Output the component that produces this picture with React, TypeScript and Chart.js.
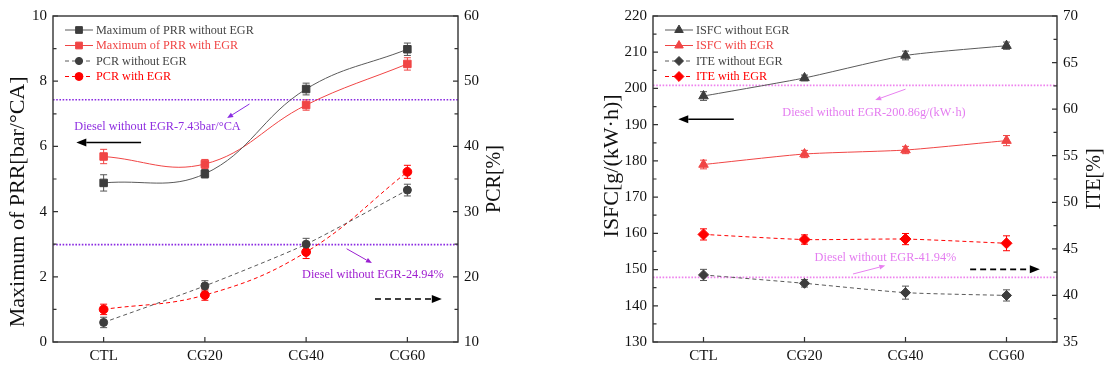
import React, { useEffect, useRef } from 'react';
import { Chart, registerables } from 'chart.js';
import { drawPoint } from 'chart.js/helpers';

Chart.register(...registerables);

const FONT = "'Liberation Serif', 'Times New Roman', serif";

// ---------- shared categories ----------
const categories = ['CTL', 'CG20', 'CG40', 'CG60'];

// ---------- left chart data ----------
const prrWithoutEGR = [4.88, 5.16, 7.76, 8.98];
const prrWithoutEGRErr = [0.25, 0.13, 0.18, 0.19];
const prrWithEGR = [5.69, 5.46, 7.27, 8.53];
const prrWithEGRErr = [0.22, 0.14, 0.16, 0.19];
const pcrWithoutEGR = [13.0, 18.6, 25.0, 33.3];
const pcrWithoutEGRErr = [0.8, 0.8, 0.9, 0.9];
const pcrWithEGR = [15.0, 17.2, 23.8, 36.1];
const pcrWithEGRErr = [0.8, 0.8, 1.0, 1.0];
const prrTicks = [0, 2, 4, 6, 8, 10];
const pcrTicks = [10, 20, 30, 40, 50, 60];
const dieselPRR = 7.43;
const dieselPCR = 24.94;

// ---------- right chart data ----------
const isfcWithoutEGR = [197.9, 202.9, 209.1, 211.8];
const isfcWithoutEGRErr = [1.2, 0.8, 1.2, 1.0];
const isfcWithEGR = [179.0, 181.9, 183.0, 185.6];
const isfcWithEGRErr = [1.2, 1.0, 1.0, 1.4];
const iteWithoutEGR = [42.2, 41.3, 40.3, 40.0];
const iteWithoutEGRErr = [0.6, 0.4, 0.7, 0.6];
const iteWithEGR = [46.55, 46.0, 46.05, 45.6];
const iteWithEGRErr = [0.6, 0.5, 0.6, 0.8];
const isfcTicks = [130, 140, 150, 160, 170, 180, 190, 200, 210, 220];
const iteTicks = [35, 40, 45, 50, 55, 60, 65, 70];
const dieselISFC = 200.86;
const dieselITE = 41.94;

// ---------- helpers ----------
function drawArrow(ctx: CanvasRenderingContext2D, x1: number, y1: number, x2: number, y2: number,
  color: string, width: number, dash: number[], headLen: number, headW: number) {
  const ang = Math.atan2(y2 - y1, x2 - x1);
  const bx = x2 - headLen * Math.cos(ang);
  const by = y2 - headLen * Math.sin(ang);
  ctx.save();
  ctx.strokeStyle = color;
  ctx.fillStyle = color;
  ctx.lineWidth = width;
  ctx.setLineDash(dash);
  ctx.beginPath();
  ctx.moveTo(x1, y1);
  ctx.lineTo(bx, by);
  ctx.stroke();
  ctx.setLineDash([]);
  ctx.beginPath();
  ctx.moveTo(x2, y2);
  ctx.lineTo(bx + headW * Math.sin(ang), by - headW * Math.cos(ang));
  ctx.lineTo(bx - headW * Math.sin(ang), by + headW * Math.cos(ang));
  ctx.closePath();
  ctx.fill();
  ctx.restore();
}

const errorBarPlugin = {
  id: 'errorBars',
  beforeDatasetsDraw(chart: any) {
    const ctx = chart.ctx;
    chart.data.datasets.forEach((ds: any, i: number) => {
      const meta = chart.getDatasetMeta(i);
      const ys = chart.scales[ds.yAxisID];
      (ds.errors || []).forEach((e: number, j: number) => {
        const pt = meta.data[j];
        if (!pt) return;
        const x = pt.x;
        const yTop = ys.getPixelForValue(ds.data[j] + e);
        const yBot = ys.getPixelForValue(ds.data[j] - e);
        ctx.save();
        ctx.strokeStyle = ds.errColor;
        ctx.lineWidth = 1;
        ctx.beginPath();
        ctx.moveTo(x, yTop);
        ctx.lineTo(x, yBot);
        ctx.moveTo(x - 3.5, yTop);
        ctx.lineTo(x + 3.5, yTop);
        ctx.moveTo(x - 3.5, yBot);
        ctx.lineTo(x + 3.5, yBot);
        ctx.stroke();
        ctx.restore();
      });
    });
  },
};

const annotPlugin = {
  id: 'annot',
  beforeDatasetsDraw(chart: any, _a: any, opts: any) {
    const ctx = chart.ctx;
    const { left, right } = chart.chartArea;
    (opts.lines || []).forEach((l: any) => {
      const y = chart.scales[l.axis].getPixelForValue(l.value);
      ctx.save();
      ctx.strokeStyle = l.color;
      ctx.lineWidth = 1.6;
      ctx.setLineDash([1.6, 1.6]);
      ctx.beginPath();
      ctx.moveTo(left, y);
      ctx.lineTo(right, y);
      ctx.stroke();
      ctx.restore();
    });
  },
  afterDatasetsDraw(chart: any, _a: any, opts: any) {
    const ctx = chart.ctx;
    const xs = chart.scales.x;
    (opts.texts || []).forEach((t: any) => {
      const x = xs.getPixelForValue(t.x);
      const y = chart.scales[t.axis].getPixelForValue(t.y);
      ctx.save();
      ctx.font = `12.3px ${FONT}`;
      ctx.fillStyle = t.color;
      ctx.textAlign = 'left';
      ctx.textBaseline = 'middle';
      ctx.fillText(t.text, x, y);
      ctx.restore();
    });
    (opts.arrows || []).forEach((a: any) => {
      const s = chart.scales[a.axis];
      drawArrow(ctx, xs.getPixelForValue(a.x1), s.getPixelForValue(a.y1),
        xs.getPixelForValue(a.x2), s.getPixelForValue(a.y2),
        a.color, a.width, a.dash || [], a.headLen, a.headW);
    });
  },
};

function drawVerticalTitle(ctx: CanvasRenderingContext2D, text: string, x: number, y: number, size: number) {
  ctx.save();
  ctx.translate(x, y);
  ctx.rotate(-Math.PI / 2);
  ctx.font = `${size}px ${FONT}`;
  ctx.fillStyle = '#111';
  ctx.textAlign = 'center';
  ctx.textBaseline = 'middle';
  ctx.fillText(text, 0, 0);
  ctx.restore();
}

const framePlugin = {
  id: 'frame',
  afterDraw(chart: any, _a: any, opts: any) {
    const ctx = chart.ctx;
    const { left, right, top, bottom } = chart.chartArea;
    ctx.save();
    ctx.strokeStyle = '#333';
    ctx.lineWidth = 1.4;
    ctx.strokeRect(left, top, right - left, bottom - top);
    // ticks
    ctx.lineWidth = 1.2;
    ctx.beginPath();
    const drawY = (s: any, side: 'left' | 'right') => {
      const vals = s.ticks.map((t: any) => t.value);
      const x0 = side === 'left' ? left : right;
      const dir = side === 'left' ? 1 : -1;
      vals.forEach((v: number, i: number) => {
        const y = s.getPixelForValue(v);
        ctx.moveTo(x0, y);
        ctx.lineTo(x0 + dir * 5, y);
        if (i < vals.length - 1) {
          const ym = s.getPixelForValue((v + vals[i + 1]) / 2);
          ctx.moveTo(x0, ym);
          ctx.lineTo(x0 + dir * 3.5, ym);
        }
      });
    };
    drawY(chart.scales.y, 'left');
    drawY(chart.scales.y1, 'right');
    const xs = chart.scales.x;
    categories.forEach((_c, i) => {
      const x = xs.getPixelForValue(i);
      ctx.moveTo(x, bottom);
      ctx.lineTo(x, bottom - 5);
    });
    ctx.stroke();
    // axis titles (both read upward)
    const h = bottom - top;
    drawVerticalTitle(ctx, opts.leftTitle, left - opts.leftTitleOffset, top + h * opts.leftTitleFrac, 22);
    drawVerticalTitle(ctx, opts.rightTitle, right + opts.rightTitleOffset, top + h / 2, 20);
    // legend
    chart.data.datasets.forEach((ds: any, i: number) => {
      const y = top + 14 + i * 15.5;
      const x1 = left + 12;
      const x2 = left + 40;
      ctx.save();
      ctx.strokeStyle = ds.borderColor;
      ctx.lineWidth = 1;
      ctx.setLineDash(ds.borderDash || []);
      ctx.beginPath();
      ctx.moveTo(x1, y);
      ctx.lineTo(x2, y);
      ctx.stroke();
      ctx.setLineDash([]);
      ctx.fillStyle = ds.pointBackgroundColor;
      ctx.strokeStyle = ds.pointBorderColor;
      drawPoint(ctx, { pointStyle: ds.pointStyle, radius: ds.pointRadius * 0.9, rotation: 0, borderWidth: 1 } as any,
        (x1 + x2) / 2, y);
      ctx.font = `12.2px ${FONT}`;
      ctx.fillStyle = ds.textColor;
      ctx.textAlign = 'left';
      ctx.textBaseline = 'middle';
      ctx.fillText(ds.label, left + 43, y + 0.5);
      ctx.restore();
    });
    ctx.restore();
  },
};

function makeDataset(label: string, data: number[], errors: number[], axis: string, o: any) {
  return {
    label, data, errors, yAxisID: axis,
    borderColor: o.line, backgroundColor: o.point,
    pointBackgroundColor: o.point, pointBorderColor: o.point,
    pointStyle: o.style, pointRadius: o.radius, pointBorderWidth: 1,
    borderWidth: 1, borderDash: o.dash || [], tension: o.tension,
    textColor: o.text, errColor: o.err || o.point, fill: false,
  };
}

function baseScales(leftTicks: number[], rightTicks: number[], leftWidth: number, rightWidth: number) {
  const tickFont = { family: FONT, size: 15 };
  return {
    x: {
      type: 'category', offset: true,
      grid: { display: false, drawTicks: false, offset: false },
      border: { display: false },
      ticks: { font: tickFont, color: '#111', padding: 5 },
      afterFit: (s: any) => { s.height = 30; },
    },
    y: {
      position: 'left', min: leftTicks[0], max: leftTicks[leftTicks.length - 1],
      grid: { display: false, drawTicks: false },
      border: { display: false },
      ticks: { font: tickFont, color: '#111', padding: 6 },
      afterBuildTicks: (s: any) => { s.ticks = leftTicks.map((v) => ({ value: v })); },
      afterFit: (s: any) => { s.width = leftWidth; },
    },
    y1: {
      position: 'right', min: rightTicks[0], max: rightTicks[rightTicks.length - 1],
      grid: { display: false, drawTicks: false },
      border: { display: false },
      ticks: { font: tickFont, color: '#111', padding: 6 },
      afterBuildTicks: (s: any) => { s.ticks = rightTicks.map((v) => ({ value: v })); },
      afterFit: (s: any) => { s.width = rightWidth; },
    },
  };
}

const GRAY_PT = '#3d3d3d';
const GRAY_LN = '#5a5a5a';
const RED1 = '#f04545';
const RED2 = '#ff0000';

function leftConfig(): any {
  const violet = '#8a2be2';
  return {
    type: 'line',
    data: {
      labels: categories,
      datasets: [
        makeDataset('Maximum of PRR without EGR', prrWithoutEGR, prrWithoutEGRErr, 'y',
          { line: GRAY_LN, point: GRAY_PT, style: 'rect', radius: 5.3, tension: 0.4, text: '#444', err: '#555' }),
        makeDataset('Maximum of PRR with EGR', prrWithEGR, prrWithEGRErr, 'y',
          { line: RED1, point: RED1, style: 'rect', radius: 5.3, tension: 0.4, text: RED1 }),
        makeDataset('PCR without EGR', pcrWithoutEGR, pcrWithoutEGRErr, 'y1',
          { line: GRAY_LN, point: GRAY_PT, style: 'circle', radius: 4, tension: 0.2, dash: [4, 3], text: '#444', err: '#555' }),
        makeDataset('PCR with EGR', pcrWithEGR, pcrWithEGRErr, 'y1',
          { line: RED2, point: RED2, style: 'circle', radius: 4.4, tension: 0.4, dash: [4, 3], text: RED2 }),
      ],
    },
    options: {
      responsive: false, animation: false, devicePixelRatio: 1,
      layout: { padding: { top: 16, left: 0, right: 0, bottom: 0 } },
      plugins: {
        legend: { display: false }, tooltip: { enabled: false },
        annot: {
          lines: [
            { axis: 'y', value: dieselPRR, color: violet },
            { axis: 'y1', value: dieselPCR, color: violet },
          ],
          texts: [
            { text: 'Diesel without EGR-7.43bar/°CA', x: -0.29, y: 6.6, axis: 'y', color: '#8f2ee0' },
            { text: 'Diesel without EGR-24.94%', x: 1.96, y: 20.3, axis: 'y1', color: '#a020d0' },
          ],
          arrows: [
            { x1: 1.44, y1: 7.3, x2: 1.22, y2: 6.87, axis: 'y', color: '#8a2be2', width: 1, headLen: 6, headW: 2.5 },
            { x1: 0.37, y1: 6.12, x2: -0.27, y2: 6.12, axis: 'y', color: '#000', width: 1.6, headLen: 10, headW: 4 },
            { x1: 2.40, y1: 24.3, x2: 2.65, y2: 22.1, axis: 'y1', color: '#9a1fd0', width: 1, headLen: 6, headW: 2.5 },
            { x1: 2.68, y1: 16.6, x2: 3.34, y2: 16.6, axis: 'y1', color: '#000', width: 1.6, dash: [6, 4], headLen: 10, headW: 4 },
          ],
        },
        frame: {
          leftTitle: 'Maximum of PRR[bar/°CA]', leftTitleOffset: 35, leftTitleFrac: 0.57,
          rightTitle: 'PCR[%]', rightTitleOffset: 37,
        },
      },
      scales: baseScales(prrTicks, pcrTicks, 53, 97),
    },
    plugins: [errorBarPlugin, annotPlugin, framePlugin],
  };
}

function rightConfig(): any {
  const pink = '#ee82ee';
  return {
    type: 'line',
    data: {
      labels: categories,
      datasets: [
        makeDataset('ISFC without EGR', isfcWithoutEGR, isfcWithoutEGRErr, 'y',
          { line: GRAY_LN, point: GRAY_PT, style: 'triangle', radius: 5.5, tension: 0.2, text: '#444', err: '#555' }),
        makeDataset('ISFC with EGR', isfcWithEGR, isfcWithEGRErr, 'y',
          { line: RED1, point: RED1, style: 'triangle', radius: 5.5, tension: 0.2, text: RED1 }),
        makeDataset('ITE without EGR', iteWithoutEGR, iteWithoutEGRErr, 'y1',
          { line: GRAY_LN, point: GRAY_PT, style: 'rectRot', radius: 5, tension: 0.2, dash: [4, 3], text: '#444', err: '#555' }),
        makeDataset('ITE with EGR', iteWithEGR, iteWithEGRErr, 'y1',
          { line: RED2, point: RED2, style: 'rectRot', radius: 5.5, tension: 0.2, dash: [4, 3], text: RED2 }),
      ],
    },
    options: {
      responsive: false, animation: false, devicePixelRatio: 1,
      layout: { padding: { top: 16, left: 0, right: 0, bottom: 0 } },
      plugins: {
        legend: { display: false }, tooltip: { enabled: false },
        annot: {
          lines: [
            { axis: 'y', value: dieselISFC, color: pink },
            { axis: 'y1', value: dieselITE, color: pink },
          ],
          texts: [
            { text: 'Diesel without EGR-200.86g/(kW·h)', x: 0.78, y: 193.3, axis: 'y', color: '#e47cf0' },
            { text: 'Diesel without EGR-41.94%', x: 1.10, y: 44.05, axis: 'y1', color: '#e47cf0' },
          ],
          arrows: [
            { x1: 2.0, y1: 199.8, x2: 1.70, y2: 196.8, axis: 'y', color: '#e880f0', width: 1, headLen: 6, headW: 2.5 },
            { x1: 0.30, y1: 191.5, x2: -0.25, y2: 191.5, axis: 'y', color: '#000', width: 1.6, headLen: 10, headW: 4 },
            { x1: 1.48, y1: 42.3, x2: 1.80, y2: 43.2, axis: 'y1', color: '#e880f0', width: 1, headLen: 6, headW: 2.5 },
            { x1: 2.64, y1: 42.8, x2: 3.33, y2: 42.8, axis: 'y1', color: '#000', width: 1.6, dash: [6, 4], headLen: 10, headW: 4 },
          ],
        },
        frame: {
          leftTitle: 'ISFC[g/(kW·h)]', leftTitleOffset: 41, leftTitleFrac: 0.46,
          rightTitle: 'ITE[%]', rightTitleOffset: 38,
        },
      },
      scales: baseScales(isfcTicks, iteTicks, 98, 54),
    },
    plugins: [errorBarPlugin, annotPlugin, framePlugin],
  };
}

function ChartCanvas({ makeConfig, width, height, left }: { makeConfig: () => any; width: number; height: number; left: number }) {
  const ref = useRef<HTMLCanvasElement>(null);
  useEffect(() => {
    const chart = new Chart(ref.current as HTMLCanvasElement, makeConfig());
    return () => chart.destroy();
  }, []);
  return (
    <canvas ref={ref} width={width} height={height}
      style={{ position: 'absolute', left, top: 0, width, height, display: 'block' }} />
  );
}

export default function App() {
  return (
    <div style={{ position: 'absolute', left: 0, top: 0, width: 1111, height: 372, background: '#fff' }}>
      <ChartCanvas makeConfig={leftConfig} width={555} height={372} left={0} />
      <ChartCanvas makeConfig={rightConfig} width={556} height={372} left={555} />
    </div>
  );
}
